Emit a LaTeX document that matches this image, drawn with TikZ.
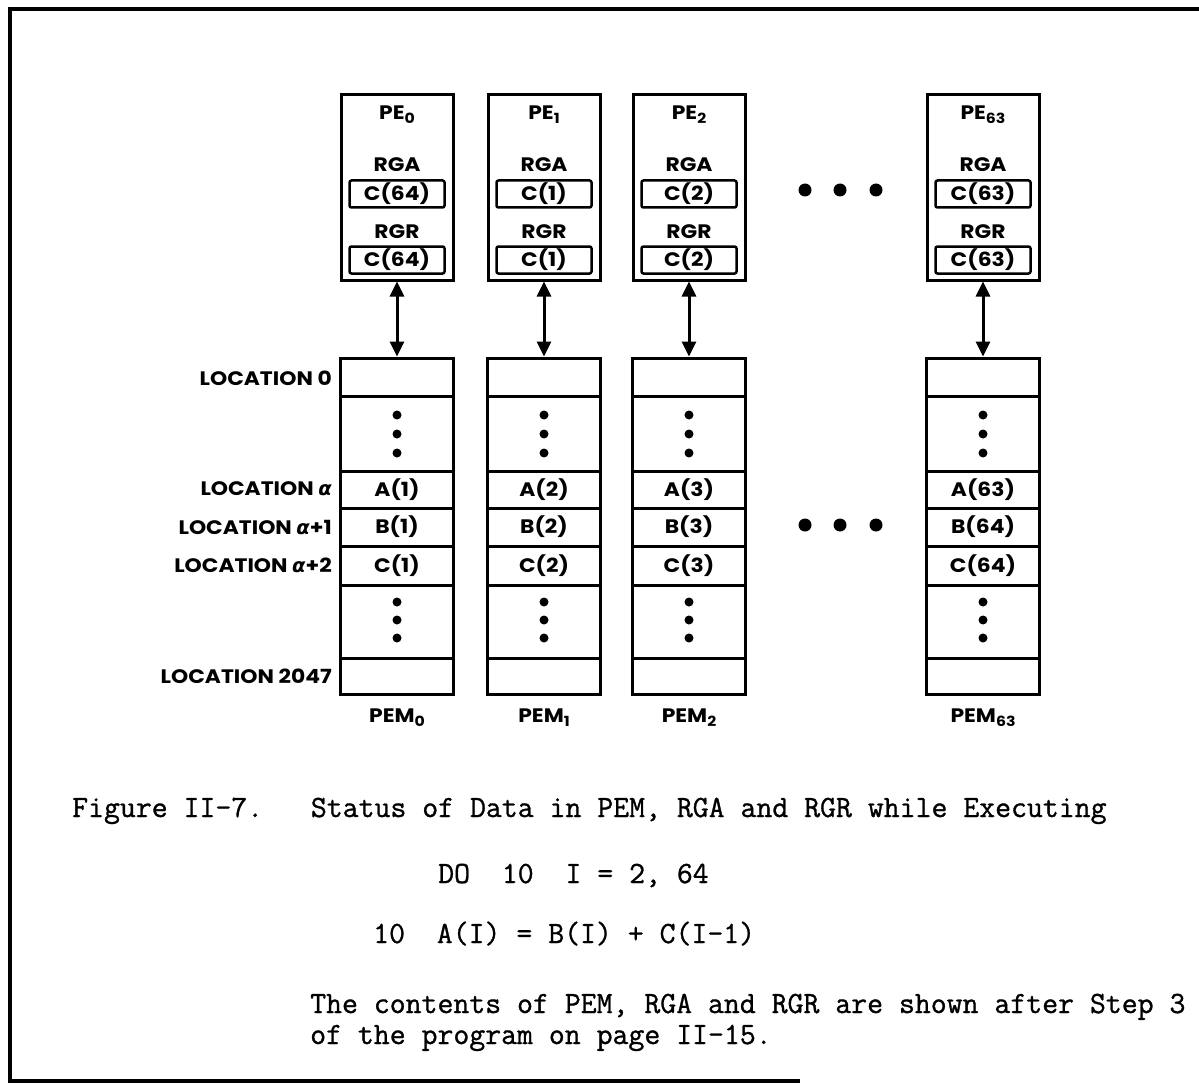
\documentclass[tikz,border=0pt]{standalone}
\usepackage{fontspec}
\setmonofont[FakeBold=1]{Latin Modern Mono}
\newfontfamily\lab[FakeStretch=1.12]{Poppins}
\newfontfamily\grk{DejaVu Sans}
\usetikzlibrary{arrows.meta}
\newcommand\labf{\lab\bfseries\fontsize{19.5}{21}\selectfont}
\newcommand\capf{\ttfamily\fontsize{30.9}{32}\selectfont}
\newcommand\sub[1]{\raisebox{-0.35ex}{\fontsize{14}{15}\selectfont #1}}
\newcommand\alp{{\grk\bfseries\itshape α}}
\begin{document}
\begin{tikzpicture}[x=1pt,y=-1pt]
\tikzset{
 frame/.style={line width=4pt},
 pebox/.style={draw, line width=3pt, minimum width=112pt, minimum height=185pt, inner sep=0pt},
 reg/.style={draw, line width=2.5pt, rounded corners=2pt, minimum width=95pt, minimum height=27pt, inner sep=0pt, font=\labf},
 cell/.style={draw, line width=3pt, minimum width=113pt, inner sep=0pt, font=\labf},
 lbl/.style={font=\labf, inner sep=0pt},
 captext/.style={font=\capf, anchor=base west, inner sep=0pt},
 link/.style={line width=3pt, {Triangle[width=14pt,length=15pt]}-{Triangle[width=14pt,length=15pt]}},
 bigdot/.style={circle, fill, inner sep=0pt, minimum size=13pt},
 smalldot/.style={circle, fill, inner sep=0pt, minimum size=9pt},
}
\useasboundingbox (0,0) rectangle (1199,1086);
% frame
\draw[frame] (800,1081) -- (10,1081) -- (10,9) -- (1199,9);

\foreach \x/\n/\r/\a/\b/\c in {397/0/64/1/1/1, 544/1/1/2/2/2, 689/2/2/3/3/3, 983/63/63/63/64/64} {
  \node[pebox] (pe\n) at (\x,187.5) {};
  \node[lbl] (pet\n) at (\x,115) {PE\sub{\n}};
  \node[lbl] (rga\n) at (\x,165) {RGA};
  \node[reg] (ra\n) at (\x,194) {C(\r)};
  \node[lbl] (rgr\n) at (\x,232) {RGR};
  \node[reg] (rr\n) at (\x,260) {C(\r)};
  \node[cell, minimum height=38pt] (m\n a) at (\x,377) {};
  \node[cell, minimum height=75pt] (m\n b) at (\x,433.5) {};
  \node[cell, minimum height=37pt] (m\n c) at (\x,489.5) {A(\a)};
  \node[cell, minimum height=38pt] (m\n d) at (\x,527) {B(\b)};
  \node[cell, minimum height=39pt] (m\n e) at (\x,565.5) {C(\c)};
  \node[cell, minimum height=73pt] (m\n f) at (\x,621.5) {};
  \node[cell, minimum height=36pt] (m\n g) at (\x,676) {};
  \node[smalldot] (db1\n) at (\x,415) {};
  \node[smalldot] (db2\n) at (\x,434) {};
  \node[smalldot] (db3\n) at (\x,453) {};
  \node[smalldot] (df1\n) at (\x,602) {};
  \node[smalldot] (df2\n) at (\x,620) {};
  \node[smalldot] (df3\n) at (\x,638) {};
  \node[lbl] (pem\n) at (\x,718) {PEM\sub{\n}};
  \draw[link] (pe\n.south) -- (m\n a.north);
}

% location labels
\node[lbl, anchor=east] (l0) at (332,378) {LOCATION 0};
\node[lbl, anchor=east] (la) at (332,489) {LOCATION \alp};
\node[lbl, anchor=east] (la1) at (332,527) {LOCATION \alp+1};
\node[lbl, anchor=east] (la2) at (332,565) {LOCATION \alp+2};
\node[lbl, anchor=east] (l2047) at (332,676) {LOCATION 2047};

% ellipsis dots
\node[bigdot] (ta) at (805,190) {};
\node[bigdot] (tb) at (840,190) {};
\node[bigdot] (tc) at (876,190) {};
\node[bigdot] (ba) at (805,525) {};
\node[bigdot] (bb) at (840,525) {};
\node[bigdot] (bc) at (876,525) {};

% caption
\node[captext] (cap1) at (72,817) {Figure II-7.~~~Status of Data in PEM, RGA and RGR while Executing};
\node[captext] (cap2) at (438,883) {DO~~10~~I = 2, 64};
\node[captext] (cap3) at (373,943) {10~~A(I) = B(I) + C(I-1)};
\node[captext] (cap4) at (310,1013) {The contents of PEM, RGA and RGR are shown after Step 3};
\node[captext] (cap5) at (310,1044) {of the program on page II-15.};
\end{tikzpicture}
\end{document}
